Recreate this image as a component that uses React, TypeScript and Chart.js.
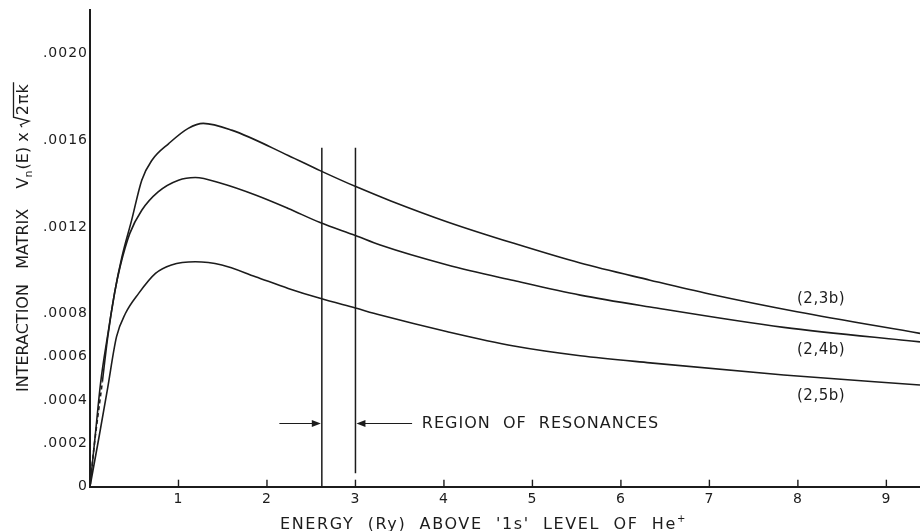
import { useEffect, useRef } from 'react';
import { Chart, registerables } from 'chart.js';

Chart.register(...registerables);

// Interaction matrix element V_n(E) x sqrt(2*pi*k) against energy above the 1s level of He+.
// (2,3b)
const energy23 = [0, 0.06, 0.12, 0.2, 0.28, 0.36, 0.47, 0.585, 0.7, 0.89, 1.11, 1.28, 1.6, 2.24, 2.6, 3.01, 3.4, 4.04, 4.79, 5.54, 6.33, 7.0, 7.99, 9.38];
const matrix23 = [0, 0.00024, 0.00048, 0.0007, 0.0009, 0.00106, 0.00123, 0.001416, 0.001508, 0.001585, 0.001655, 0.001678, 0.001647, 0.00153, 0.00146, 0.001385, 0.00132, 0.001223, 0.001124, 0.001033, 0.000954, 0.00089, 0.000808, 0.000708];

// (2,4b), solid part
const energy24 = [0.14, 0.2, 0.28, 0.34, 0.45, 0.585, 0.77, 1.0, 1.19, 1.49, 1.87, 2.24, 2.6, 3.0, 3.28, 4.04, 4.79, 5.54, 6.33, 7.84, 9.38];
const matrix24 = [0.000485, 0.00069, 0.0009, 0.001016, 0.00117, 0.001277, 0.001362, 0.001416, 0.001428, 0.0014, 0.001347, 0.001285, 0.00122, 0.00116, 0.001116, 0.001024, 0.000952, 0.000885, 0.00083, 0.000736, 0.000669];

// (2,4b), dashed part near threshold
const energy24Low = [0, 0.045, 0.14];
const matrix24Low = [0, 0.00018, 0.000485];

// (2,5b)
const energy25 = [0, 0.1, 0.195, 0.3, 0.4, 0.55, 0.74, 0.92, 1.19, 1.49, 1.87, 2.24, 2.6, 3.0, 3.28, 4.04, 4.79, 5.54, 6.33, 7.84, 9.38];
const matrix25 = [0, 0.000225, 0.000445, 0.000693, 0.0008, 0.000893, 0.000985, 0.001024, 0.001039, 0.001024, 0.00097, 0.000916, 0.00087, 0.000825, 0.000793, 0.000716, 0.00065, 0.000605, 0.000572, 0.000516, 0.00047];

const curveNames = ['(2,3b)', '(2,4b)', '(2,5b)'];

const xTickValues = [1, 2, 3, 4, 5, 6, 7, 8, 9];
const yTickValues = [0, 0.0002, 0.0004, 0.0006, 0.0008, 0.0012, 0.0016, 0.002];

// Resonance region bounds (Ry)
const resonanceLow = 2.62;
const resonanceHigh = 3.0;

const FONT = '"DejaVu Sans", "Noto Sans", sans-serif';
const INK = '#1c1c1c';

// Placement of the annotations, in data coordinates
const curveLabelSpots = [
  { e: 7.99, v: 0.000865 },
  { e: 7.99, v: 0.000631 },
  { e: 7.99, v: 0.00042 },
];
const resonanceTopValue = 0.001566;
const resonanceHighBottomValue = 0.000062;
const arrowValue = 0.000292;
const arrowTailLow = 2.14;
const arrowTailHigh = 3.64;
const resonanceTextEnergy = 3.75;

const toPoints = (xs: number[], ys: number[]) => xs.map((x, i) => ({ x, y: ys[i] }));

function drawArrow(ctx: CanvasRenderingContext2D, x0: number, x1: number, y: number) {
  const dir = Math.sign(x1 - x0);
  ctx.beginPath();
  ctx.moveTo(x0, y);
  ctx.lineTo(x1 - dir * 6, y);
  ctx.stroke();
  ctx.beginPath();
  ctx.moveTo(x1, y);
  ctx.lineTo(x1 - dir * 9, y - 3.5);
  ctx.lineTo(x1 - dir * 9, y + 3.5);
  ctx.closePath();
  ctx.fill();
}

const annotations = {
  id: 'figureAnnotations',
  beforeDraw(chart: any) {
    chart.ctx.letterSpacing = '1px';
  },
  afterDraw(chart: any) {
    const { ctx, chartArea } = chart;
    const xs = chart.scales.x;
    const ys = chart.scales.y;
    ctx.save();
    ctx.strokeStyle = INK;
    ctx.fillStyle = INK;

    // inward tick marks on the energy axis
    ctx.lineWidth = 1.4;
    for (const t of xs.ticks) {
      const px = xs.getPixelForValue(t.value);
      ctx.beginPath();
      ctx.moveTo(px, chartArea.bottom);
      ctx.lineTo(px, chartArea.bottom - 7);
      ctx.stroke();
    }

    // region of resonances
    ctx.lineWidth = 1.5;
    const xl = xs.getPixelForValue(resonanceLow);
    const xh = xs.getPixelForValue(resonanceHigh);
    const yTop = ys.getPixelForValue(resonanceTopValue);
    ctx.beginPath();
    ctx.moveTo(xl, yTop);
    ctx.lineTo(xl, chartArea.bottom);
    ctx.moveTo(xh, yTop);
    ctx.lineTo(xh, ys.getPixelForValue(resonanceHighBottomValue));
    ctx.stroke();

    const ya = ys.getPixelForValue(arrowValue);
    ctx.lineWidth = 1.2;
    drawArrow(ctx, xs.getPixelForValue(arrowTailLow), xl - 1, ya);
    drawArrow(ctx, xs.getPixelForValue(arrowTailHigh), xh + 1, ya);

    ctx.font = `16px ${FONT}`;
    ctx.letterSpacing = '1px';
    ctx.textAlign = 'left';
    ctx.textBaseline = 'middle';
    ctx.fillText('REGION  OF  RESONANCES', xs.getPixelForValue(resonanceTextEnergy), ya);

    // curve names
    ctx.font = `15px ${FONT}`;
    ctx.letterSpacing = '0.5px';
    curveNames.forEach((name, i) => {
      const s = curveLabelSpots[i];
      ctx.fillText(name, xs.getPixelForValue(s.e), ys.getPixelForValue(s.v));
    });

    // energy axis title
    ctx.textBaseline = 'alphabetic';
    ctx.font = `16px ${FONT}`;
    ctx.letterSpacing = '1.6px';
    const xTitle = "ENERGY  (Ry)  ABOVE  '1s'  LEVEL  OF  He";
    const xTitleLeft = 280;
    const xBase = 529;
    ctx.fillText(xTitle, xTitleLeft, xBase);
    const wt = ctx.measureText(xTitle).width;
    ctx.font = `10px ${FONT}`;
    ctx.letterSpacing = '0px';
    ctx.fillText('+', xTitleLeft + wt, xBase - 7);

    // matrix axis title, rotated
    ctx.translate(28, 392);
    ctx.rotate(-Math.PI / 2);
    let cx = 0;
    ctx.font = `16px ${FONT}`;
    ctx.letterSpacing = '0px';
    const head = 'INTERACTION   MATRIX    V';
    ctx.fillText(head, cx, 0);
    cx += ctx.measureText(head).width;
    ctx.font = `11px ${FONT}`;
    ctx.fillText('n', cx, 4);
    cx += ctx.measureText('n').width + 1;
    ctx.font = `16px ${FONT}`;
    const mid = '(E) x ';
    ctx.fillText(mid, cx, 0);
    cx += ctx.measureText(mid).width;
    // radical sign and bar
    ctx.letterSpacing = '1px';
    const rad = '2πk';
    const rw = ctx.measureText(rad).width;
    ctx.lineWidth = 1.3;
    ctx.beginPath();
    ctx.moveTo(cx, -6);
    ctx.lineTo(cx + 2.5, -7.5);
    ctx.lineTo(cx + 6, 1);
    ctx.lineTo(cx + 10, -14.5);
    ctx.lineTo(cx + 12 + rw + 1, -14.5);
    ctx.stroke();
    ctx.fillText(rad, cx + 12, 0);

    ctx.restore();
  },
};

export default function App() {
  const canvasRef = useRef<HTMLCanvasElement | null>(null);

  useEffect(() => {
    if (!canvasRef.current) return;
    const lineStyle = {
      borderColor: INK,
      borderWidth: 1.6,
      pointRadius: 0,
      fill: false,
      cubicInterpolationMode: 'monotone' as const,
    };
    const chart = new Chart(canvasRef.current, {
      type: 'line',
      data: {
        datasets: [
          { label: curveNames[0], data: toPoints(energy23, matrix23), ...lineStyle },
          { label: curveNames[1], data: toPoints(energy24, matrix24), ...lineStyle },
          { label: curveNames[1] + ' low', data: toPoints(energy24Low, matrix24Low), ...lineStyle, borderDash: [4, 3] },
          { label: curveNames[2], data: toPoints(energy25, matrix25), ...lineStyle },
        ],
      },
      options: {
        animation: false,
        responsive: false,
        maintainAspectRatio: false,
        layout: { padding: { top: 10, right: 0, left: 0, bottom: 0 } },
        plugins: { legend: { display: false }, tooltip: { enabled: false } },
        scales: {
          x: {
            type: 'linear',
            min: 0,
            max: 9.38,
            grid: { display: false, drawTicks: false },
            border: { display: true, color: INK, width: 2 },
            afterBuildTicks: (s: any) => {
              s.ticks = xTickValues.map((value) => ({ value }));
            },
            afterFit: (s: any) => {
              s.height = 44.3;
            },
            ticks: {
              color: INK,
              font: { family: FONT, size: 14 },
              padding: 4,
              maxRotation: 0,
              autoSkip: false,
              callback: (v: any) => String(v),
            },
          },
          y: {
            type: 'linear',
            min: 0,
            max: 0.0022,
            grid: { display: false, drawTicks: false },
            border: { display: true, color: INK, width: 2 },
            afterBuildTicks: (s: any) => {
              s.ticks = yTickValues.map((value) => ({ value }));
            },
            afterFit: (s: any) => {
              s.width = 90;
            },
            ticks: {
              color: INK,
              font: { family: FONT, size: 14 },
              padding: 2,
              autoSkip: false,
              callback: (v: any) => (Number(v) === 0 ? '0' : Number(v).toFixed(4).replace(/^0/, '')),
            },
          },
        },
      },
      plugins: [annotations],
    });
    return () => chart.destroy();
  }, []);

  return (
    <div style={{ position: 'fixed', left: 0, top: 0, width: 920, height: 531, background: '#fff' }}>
      <canvas ref={canvasRef} width={920} height={531} style={{ display: 'block' }} />
    </div>
  );
}
